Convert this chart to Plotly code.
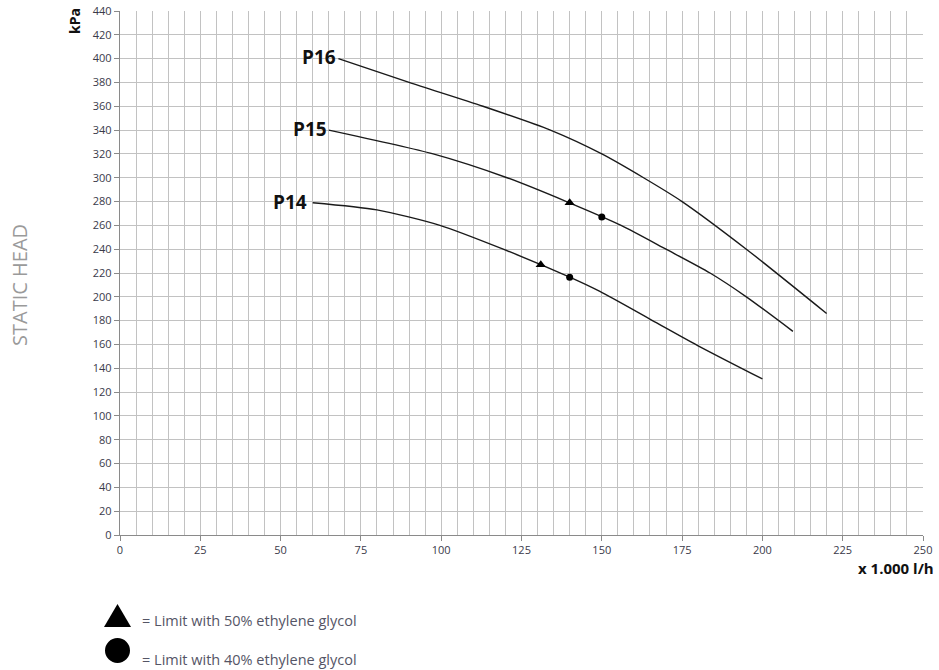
import plotly.graph_objects as go

# Pump curves: flow (x 1000 l/h) vs static head (kPa)
p16_flow = [68, 90, 113, 134, 150, 163, 175, 195, 220]
p16_head = [400, 380, 360, 340, 320, 300, 280, 240, 186]

p15_flow = [65, 97.5, 120.5, 139, 156, 170, 183.7, 195, 209.5]
p15_head = [340, 320, 300, 280, 260, 240, 220, 200, 171]

p14_flow = [60, 80, 99.6, 119.3, 140, 149.4, 165.5, 180.6, 200]
p14_head = [279, 273, 260, 240, 216.5, 204.5, 180.5, 158, 131]

# Glycol limits on P15 and P14
tri_flow = [140, 131]
tri_head = [279, 227]
dot_flow = [150, 140]
dot_head = [267, 216.5]

curve_names = ["P16", "P15", "P14"]
legend_texts = ["= Limit with 50% ethylene glycol", "= Limit with 40% ethylene glycol"]

fig = go.Figure()
for xs, ys, nm in [(p16_flow, p16_head, "P16"), (p15_flow, p15_head, "P15"), (p14_flow, p14_head, "P14")]:
    fig.add_trace(go.Scatter(x=xs, y=ys, mode="lines", name=nm,
                             line=dict(color="#1a1a1a", width=1.4, shape="spline", smoothing=0.7),
                             showlegend=False))

fig.add_trace(go.Scatter(x=tri_flow, y=tri_head, mode="markers",
                         marker=dict(symbol="triangle-up", size=9, color="black"), showlegend=False))
fig.add_trace(go.Scatter(x=dot_flow, y=dot_head, mode="markers",
                         marker=dict(symbol="circle", size=7, color="black"), showlegend=False))

tick_font = dict(family="Open Sans, sans-serif", size=11, color="#3a3a4a")
grid_col = "#c2c2c2"

fig.update_xaxes(range=[0, 250], tick0=0, dtick=25, showgrid=True, gridcolor=grid_col, gridwidth=1.3,
                 minor=dict(dtick=5, showgrid=True, gridcolor=grid_col, gridwidth=1.3),
                 showline=True, linecolor="#8a8a8a", linewidth=1.3, mirror=False,
                 ticks="outside", ticklen=5, tickcolor="#8a8a8a", tickfont=tick_font,
                 zeroline=False, automargin=False)
fig.update_yaxes(range=[0, 440], tick0=0, dtick=20, showgrid=True, gridcolor=grid_col, gridwidth=1.3,
                 showline=True, linecolor="#8a8a8a", linewidth=1.3,
                 ticks="outside", ticklen=5, tickcolor="#8a8a8a", tickfont=tick_font,
                 zeroline=False, automargin=False)

# Plot box: 120..923 px horizontally, 11..535 px vertically
PL, PW, PB, PH = 120.0, 803.0, 535.0, 524.0


def px(x):
    return (x - PL) / PW


def py(y):
    return (PB - y) / PH


ann = []
label_pos = [(68, 401, 0), (65, 341, 0), (60, 280, -4)]
for nm, (lx, ly, sh) in zip(curve_names, label_pos):
    ann.append(dict(x=lx, y=ly, xref="x", yref="y", text="<b>%s</b>" % nm, showarrow=False,
                    xanchor="right", yanchor="middle", xshift=sh,
                    font=dict(family="Open Sans, sans-serif", size=19, color="#111111")))

ann.append(dict(x=px(75), y=py(21), xref="paper", yref="paper", text="<b>kPa</b>", textangle=-90,
                showarrow=False, xanchor="center", yanchor="middle",
                font=dict(family="Open Sans, sans-serif", size=14, color="#111111")))
ann.append(dict(x=px(936), y=py(568), xref="paper", yref="paper", text="<b>x 1.000 l/h</b>",
                showarrow=False, xanchor="right", yanchor="middle",
                font=dict(family="Open Sans, sans-serif", size=15, color="#111111")))
ann.append(dict(x=px(20), y=py(285), xref="paper", yref="paper", text="STATIC HEAD", textangle=-90,
                showarrow=False, xanchor="center", yanchor="middle",
                font=dict(family="Open Sans, sans-serif", size=20, color="#9a9a9a")))

for txt, yy in zip(legend_texts, [621, 659]):
    ann.append(dict(x=px(140), y=py(yy), xref="paper", yref="paper", text=txt, showarrow=False,
                    xanchor="left", yanchor="middle",
                    font=dict(family="Open Sans, sans-serif", size=14.5, color="#555566")))

# Legend symbols drawn as shapes
shapes = [
    dict(type="path", xref="paper", yref="paper",
         path="M %f,%f L %f,%f L %f,%f Z" % (px(117.5), py(604), px(104), py(627), px(131), py(627)),
         fillcolor="black", line=dict(width=0)),
    dict(type="circle", xref="paper", yref="paper",
         x0=px(105), x1=px(130), y0=py(663), y1=py(638),
         fillcolor="black", line=dict(width=0)),
]

fig.update_layout(width=939, height=670, margin=dict(l=120, r=16, t=11, b=135),
                  plot_bgcolor="white", paper_bgcolor="white", annotations=ann, shapes=shapes)

fig.write_html("out.html")
